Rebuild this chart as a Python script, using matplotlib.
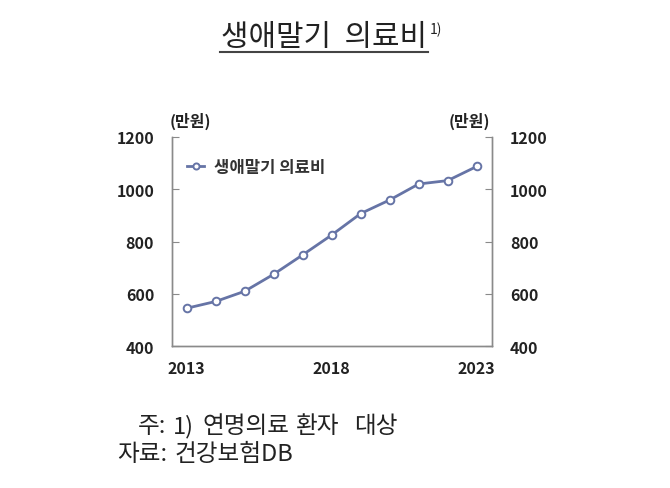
import matplotlib
matplotlib.use("Agg")
import matplotlib.pyplot as plt
from matplotlib.lines import Line2D

plt.rcParams['font.family'] = ['Noto Sans CJK KR', 'DejaVu Sans']

years = [2013, 2014, 2015, 2016, 2017, 2018, 2019, 2020, 2021, 2022, 2023]
values = [545, 571, 610, 675, 749, 825, 907, 959, 1020, 1033, 1087]
series_name = "생애말기 의료비"
title = "생애말기  의료비"
unit = "(만원)"
xticks = [2013, 2018, 2023]
yticks = [400, 600, 800, 1000, 1200]
note1_words = ["주:", "1)", "연명의료", "환자", "대상"]
note2_words = ["자료:", "건강보험DB"]

line_color = "#6674a6"
spine_color = "#8a8a8a"
text_color = "#222222"

fig = plt.figure(figsize=(6.70, 4.89), dpi=100)
ax = fig.add_axes([0.257, 0.290, 0.477, 0.428])
ax.plot(years, values, color=line_color, lw=2.0, marker='o', ms=5.5,
        mfc='white', mec=line_color, mew=1.4, label=series_name, zorder=3)
ax.set_xlim(2012.5, 2023.52)
ax.set_ylim(400, 1200)
ax.set_xticks(xticks)
ax.set_xticklabels([str(x) for x in xticks], fontsize=11.5, fontweight='bold', color=text_color)
ax.set_yticks(yticks)
ax.set_yticklabels([str(y) for y in yticks], fontsize=11.5, fontweight='bold', color=text_color)
ax.tick_params(axis='x', length=0, pad=10)
ax.tick_params(axis='y', direction='in', length=5, color=spine_color, pad=13)
ax.spines['top'].set_visible(False)
for s in ax.spines.values():
    s.set_color(spine_color)
    s.set_linewidth(1.0)

ax2 = ax.twinx()
ax2.set_ylim(400, 1200)
ax2.set_yticks(yticks)
ax2.set_yticklabels([str(y) for y in yticks], fontsize=11.5, fontweight='bold', color=text_color)
ax2.tick_params(axis='y', direction='in', length=5, color=spine_color, pad=13)
ax2.spines['top'].set_visible(False)
for s in ax2.spines.values():
    s.set_color(spine_color)
    s.set_linewidth(1.0)

leg = ax.legend(loc='upper left', bbox_to_anchor=(0.0, 0.97), frameon=False,
                prop={'weight': 'bold', 'size': 12}, handlelength=1.0,
                handletextpad=0.6, markerscale=0.8)
for t in leg.get_texts():
    t.set_color('#333333')

fig.text(0.284, 1 - 121 / 489, unit, fontsize=11.5, fontweight='bold', ha='center', va='center', color=text_color)
fig.text(0.700, 1 - 121 / 489, unit, fontsize=11.5, fontweight='bold', ha='center', va='center', color=text_color)

fig.text(0.484, 1 - 38 / 489, title, fontsize=21.5, ha='center', va='center', color=text_color)
fig.text(0.651, 1 - 30 / 489, "1)", fontsize=10, ha='center', va='center', color=text_color)
fig.add_artist(Line2D([0.328, 0.639], [1 - 53 / 489, 1 - 53 / 489], color='#444444', lw=1.5,
                      transform=fig.transFigure))

word_x1 = [138, 173, 202, 296, 354]
for w, px in zip(note1_words, word_x1):
    fig.text(px / 670, 1 - 427 / 489, w, fontsize=17, ha='left', va='center', color=text_color)
word_x2 = [117, 174]
for w, px in zip(note2_words, word_x2):
    fig.text(px / 670, 1 - 455 / 489, w, fontsize=17, ha='left', va='center', color=text_color)

fig.savefig("out.png", dpi=100)
